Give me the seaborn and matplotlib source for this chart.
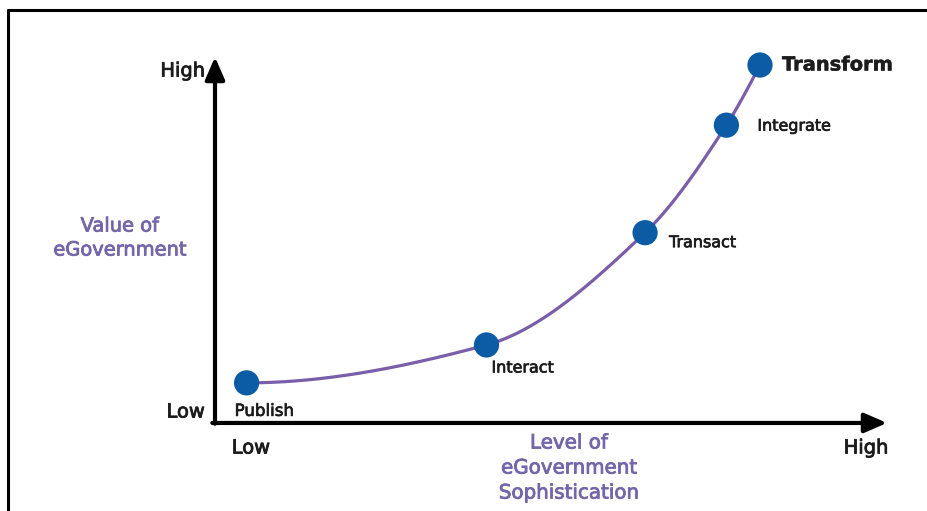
import numpy as np
import pandas as pd
import matplotlib
matplotlib.use("Agg")
import matplotlib.pyplot as plt
import matplotlib.patheffects as pe
from matplotlib.lines import Line2D
import seaborn as sns

# eGovernment maturity stages: sophistication level (x) vs. value delivered (y), 0-100 scale
stages = ["Publish", "Interact", "Transact", "Integrate", "Transform"]
sophistication = [4.7, 40.4, 64.0, 76.1, 81.1]
value = [10.6, 21.0, 51.8, 81.3, 97.8]

axis_low_high = ["Low", "High"]
x_title = ["Level of", "eGovernment", "Sophistication"]
y_title = ["Value of", "eGovernment"]

DOT = "#0b5ca4"
CURVE = "#7a5ea9"
TITLE = "#7466a8"
TEXT = "#1c1c1c"


def pchip(x, y, xs):
    """Shape-preserving (monotone) cubic through the stage points."""
    x = np.asarray(x, float)
    y = np.asarray(y, float)
    h = np.diff(x)
    d = np.diff(y) / h
    m = np.zeros_like(y)
    for k in range(1, len(x) - 1):
        if d[k - 1] * d[k] > 0:
            w1 = 2 * h[k] + h[k - 1]
            w2 = h[k] + 2 * h[k - 1]
            m[k] = (w1 + w2) / (w1 / d[k - 1] + w2 / d[k])
    m[0] = max(0.0, ((2 * h[0] + h[1]) * d[0] - h[0] * d[1]) / (h[0] + h[1]))
    m[-1] = max(0.0, ((2 * h[-1] + h[-2]) * d[-1] - h[-1] * d[-2]) / (h[-1] + h[-2]))
    idx = np.clip(np.searchsorted(x, xs) - 1, 0, len(x) - 2)
    t = (xs - x[idx]) / h[idx]
    h00 = 2 * t**3 - 3 * t**2 + 1
    h10 = t**3 - 2 * t**2 + t
    h01 = -2 * t**3 + 3 * t**2
    h11 = t**3 - t**2
    return h00 * y[idx] + h10 * h[idx] * m[idx] + h01 * y[idx + 1] + h11 * h[idx] * m[idx + 1]


def heavy(color, w=0.6):
    return [pe.withStroke(linewidth=w, foreground=color)]


sns.set_theme(style="white")
plt.rcParams["font.family"] = ["DejaVu Sans"]

W, H = 927, 511
fig = plt.figure(figsize=(W / 100, H / 100), dpi=100)
fig.patch.set_facecolor("white")

# outer frame: left and top rules
fig.add_artist(Line2D([8 / W, 8 / W], [0, 1 - 10 / H], color="black", lw=2.2))
fig.add_artist(Line2D([8 / W, 1], [1 - 10 / H, 1 - 10 / H], color="black", lw=2.2))

ax_l, ax_r, ax_b, ax_t = 215, 887, 421.5, 57
ax = fig.add_axes([ax_l / W, 1 - ax_b / H, (ax_r - ax_l) / W, (ax_b - ax_t) / H])
ax.set_xlim(0, 100)
ax.set_ylim(0, 100)
ax.axis("off")

# axis arrows
arrow = dict(arrowstyle="-|>,head_length=0.62,head_width=0.27", lw=3.0,
             color="black", mutation_scale=22, shrinkA=0, shrinkB=0)
ax.annotate("", xy=(0, 1), xytext=(0, -0.006), xycoords="axes fraction",
            arrowprops=arrow, annotation_clip=False)
ax.annotate("", xy=(1, -0.004), xytext=(-0.004, -0.004), xycoords="axes fraction",
            arrowprops=arrow, annotation_clip=False)

# maturity curve and stage markers
xs = np.linspace(sophistication[0], sophistication[-1], 300)
curve = pd.DataFrame({"x": xs, "y": pchip(sophistication, value, xs)})
sns.lineplot(data=curve, x="x", y="y", ax=ax, color=CURVE, lw=2.3, sort=False)

pts = pd.DataFrame({"stage": stages, "x": sophistication, "y": value})
sns.scatterplot(data=pts, x="x", y="y", ax=ax, color=DOT, s=330,
                edgecolor="none", zorder=5, clip_on=False)

ax.set_xlabel("")
ax.set_ylabel("")

# stage labels (pixel offsets from each marker)
offsets = {
    "Publish": (-12, -28, "left", 12, "normal"),
    "Interact": (5, -23, "left", 11.5, "normal"),
    "Transact": (24, -10, "left", 11.5, "normal"),
    "Integrate": (31, -1, "left", 11.5, "normal"),
    "Transform": (22, 0, "left", 14, "bold"),
}
for s, x, y in zip(stages, sophistication, value):
    dx, dy, ha, fs, fw = offsets[s]
    ax.annotate(s, xy=(x, y), xytext=(dx * 0.72, dy * 0.72), textcoords="offset points",
                ha=ha, va="center", fontsize=fs, fontweight=fw, color=TEXT,
                annotation_clip=False,
                path_effects=heavy(TEXT, 0.5 if fw == "normal" else 0.3))

# Low / High ends of both axes
for txt, px, py, ha in [(axis_low_high[0], 205, 412, "right"),
                        (axis_low_high[1], 205, 71, "right"),
                        (axis_low_high[0], 251, 448, "center"),
                        (axis_low_high[1], 866, 448, "center")]:
    fig.text(px / W, 1 - py / H, txt, ha=ha, va="center", fontsize=14,
             color=TEXT, path_effects=heavy(TEXT))

# axis titles
for line, yy in zip(y_title, [226, 250]):
    fig.text(120 / W, 1 - yy / H, line, ha="center", va="center", fontsize=14,
             color=TITLE, path_effects=heavy(TITLE))
for line, yy in zip(x_title, [443, 468, 493]):
    fig.text(569 / W, 1 - yy / H, line, ha="center", va="center", fontsize=14.3,
             color=TITLE, path_effects=heavy(TITLE))

fig.savefig("out.png", dpi=100, facecolor="white")
